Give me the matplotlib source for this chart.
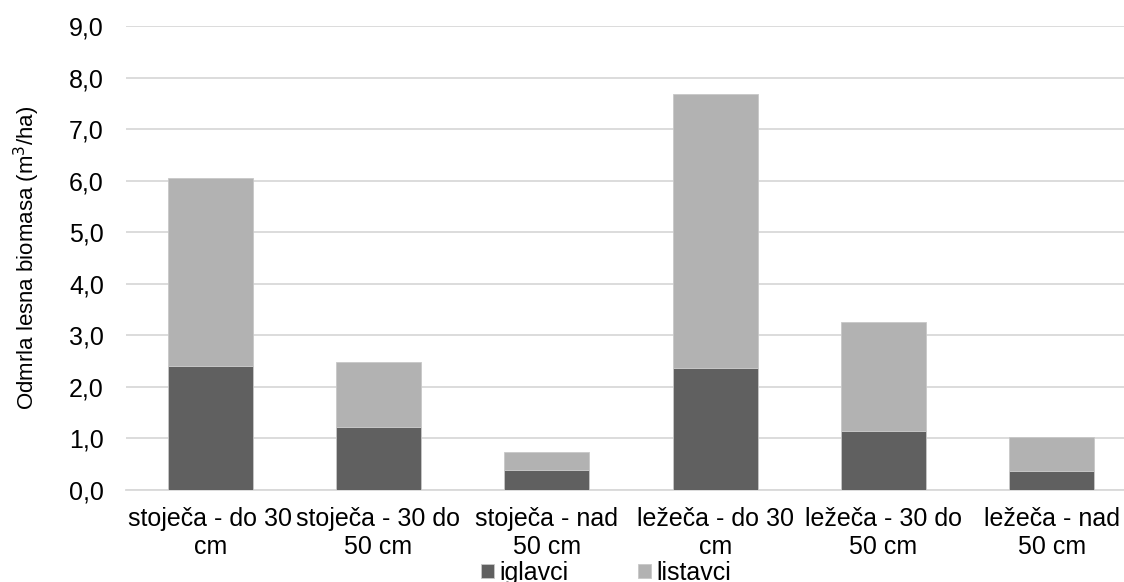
import matplotlib
matplotlib.use("Agg")
import matplotlib.pyplot as plt
import numpy as np

plt.rcParams['font.family'] = ['Liberation Sans', 'DejaVu Sans']

kategorije = ["stoječa - do 30\ncm", "stoječa - 30 do\n50 cm", "stoječa - nad\n50 cm",
              "ležeča - do 30\ncm", "ležeča - 30 do\n50 cm", "ležeča - nad\n50 cm"]
iglavci = [2.40, 1.22, 0.39, 2.36, 1.14, 0.37]
listavci = [3.66, 1.26, 0.35, 5.32, 2.11, 0.65]
yticks = np.arange(0, 9.5, 1.0)

W, H = 1124, 582
fig = plt.figure(figsize=(W / 100, H / 100), dpi=100)
# plot area runs a bit past the right edge, like in the original
ax = fig.add_axes([126 / W, (H - 490) / H, 1010 / W, 464 / H])

x = np.arange(len(kategorije))
ax.bar(x, iglavci, width=0.505, color='#606060', edgecolor='#c8c8c8', linewidth=0.6,
       label='iglavci', zorder=3)
ax.bar(x, listavci, width=0.505, bottom=iglavci, color='#b2b2b2', edgecolor='#c8c8c8',
       linewidth=0.6, label='listavci', zorder=3)

ax.set_xlim(-0.5, 5.5)
ax.set_ylim(0, 9)
ax.set_yticks(yticks)
ax.set_yticklabels([f"{v:.1f}".replace('.', ',') for v in yticks], fontsize=18)
ax.set_xticks(x)
ax.set_xticklabels(kategorije, fontsize=18, linespacing=1.25)
ax.tick_params(axis='y', length=0, pad=16)
ax.tick_params(axis='x', length=0, pad=12)
ax.yaxis.grid(True, color='#d9d9d9', linewidth=1.3, zorder=0)
for s in ['top', 'right', 'left']:
    ax.spines[s].set_visible(False)
ax.spines['bottom'].set_color('#d9d9d9')
ax.spines['bottom'].set_linewidth(1.3)
ax.set_ylabel('Odmrla lesna biomasa (m$^3$/ha)', fontsize=16)
ax.yaxis.set_label_coords(-84 / 1010, 0.5)

fig.legend(loc='center', bbox_to_anchor=(606 / W, 1 - 573 / H), ncol=2, frameon=False,
           fontsize=18, handlelength=0.52, handleheight=0.52, handletextpad=0.2,
           columnspacing=2.8, borderpad=0)

fig.savefig('out.png', dpi=100)
